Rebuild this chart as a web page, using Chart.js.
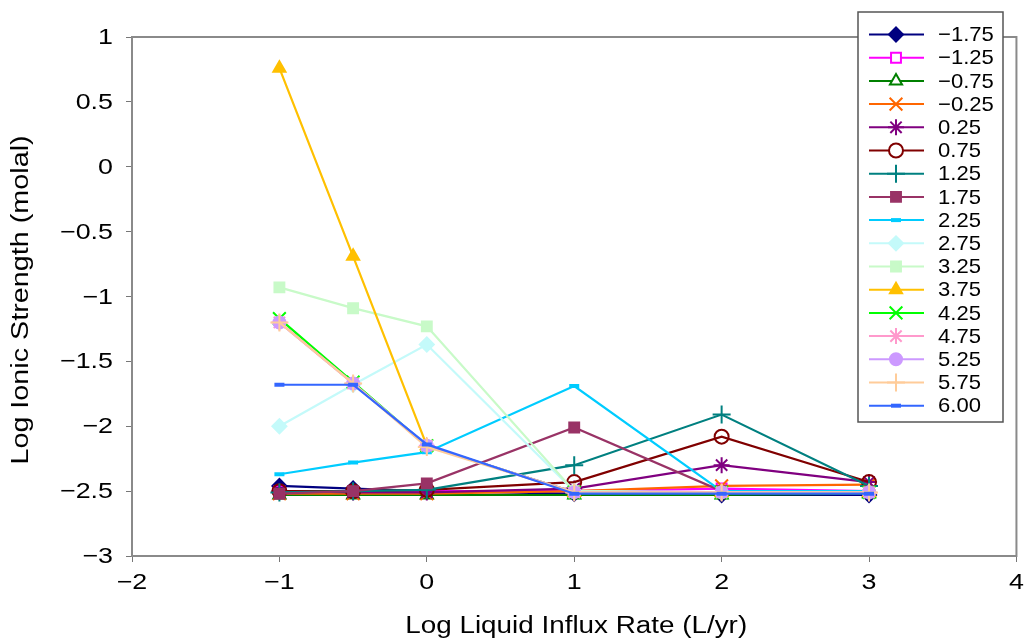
<!DOCTYPE html>
<html>
<head>
<meta charset="utf-8">
<script src="https://cdn.jsdelivr.net/npm/chart.js@4.4.0/dist/chart.umd.min.js"></script>
<style>
html,body{margin:0;padding:0;background:#fff;}
#wrap{width:1028px;height:642px;position:relative;}
</style>
</head>
<body>
<div id="wrap"><canvas id="c" width="1028" height="642"></canvas></div>
<script>
// ---- data ----
const xValues = [-1, -0.5, 0, 1, 2, 3];
const seriesLabels = ['\u22121.75','\u22121.25','\u22120.75','\u22120.25','0.25','0.75','1.25','1.75','2.25','2.75','3.25','3.75','4.25','4.75','5.25','5.75','6.00'];
const s_m175 = [-2.46, -2.48, -2.50, -2.52, -2.53, -2.53];
const s_m125 = [-2.50, -2.50, -2.50, -2.50, -2.48, -2.50];
const s_m075 = [-2.53, -2.53, -2.53, -2.53, -2.53, -2.52];
const s_m025 = [-2.52, -2.52, -2.52, -2.50, -2.46, -2.45];
const s_025  = [-2.50, -2.51, -2.51, -2.48, -2.30, -2.43];
const s_075  = [-2.50, -2.50, -2.49, -2.43, -2.08, -2.43];
const s_125  = [-2.51, -2.50, -2.49, -2.30, -1.91, -2.46];
const s_175  = [-2.52, -2.50, -2.44, -2.01, -2.50, -2.50];
const s_225  = [-2.37, -2.28, -2.20, -1.69, -2.50, -2.50];
const s_275  = [-2.00, -1.68, -1.37, -2.50, -2.51, -2.51];
const s_325  = [-0.93, -1.09, -1.23, -2.50, -2.51, -2.51];
const s_375  = [0.76, -0.69, -2.15, -2.51, -2.51, -2.51];
const s_425  = [-1.17, -1.66, -2.15, -2.51, -2.51, -2.51];
const s_475  = [-1.20, -1.67, -2.15, -2.51, -2.51, -2.51];
const s_525  = [-1.20, -1.67, -2.15, -2.51, -2.51, -2.51];
const s_575  = [-1.20, -1.67, -2.16, -2.51, -2.51, -2.51];
const s_600  = [-1.68, -1.68, -2.14, -2.52, -2.52, -2.52];
const xTickMin = -2, xTickMax = 4, xTickStep = 1;
const yTickMin = -3, yTickMax = 1, yTickStep = 0.5;
const xTitle = 'Log Liquid Influx Rate (L/yr)';
const yTitle = 'Log Ionic Strength (molal)';

const seriesValues = [s_m175,s_m125,s_m075,s_m025,s_025,s_075,s_125,s_175,s_225,s_275,s_325,s_375,s_425,s_475,s_525,s_575,s_600];

// ---- styles ----
const colors = ['#000080','#FF00FF','#008000','#FF6600','#800080','#800000','#008080','#993366','#00CCFF','#C4FAFA','#C8FAC8','#FFC000','#00FF00','#FF99CC','#CC99FF','#FFCC99','#3366FF'];
const styles = [
  {ps:'rectRot', r:7, fill:true},
  {ps:'rect', r:7, fill:false},
  {ps:'triangle', r:7, fill:false},
  {ps:'crossRot', r:9, fill:false},
  {ps:'star', r:8, fill:false},
  {ps:'circle', r:7, fill:false},
  {ps:'cross', r:9, fill:false},
  {ps:'rect', r:7, fill:true},
  {ps:'line', r:5, fill:true, bw:4},
  {ps:'rectRot', r:7, fill:true},
  {ps:'rect', r:7, fill:true},
  {ps:'triangle', r:7, fill:true},
  {ps:'crossRot', r:9, fill:false},
  {ps:'star', r:8, fill:false},
  {ps:'circle', r:6, fill:true},
  {ps:'cross', r:9, fill:false},
  {ps:'line', r:5, fill:true, bw:4}
];

const datasets = seriesValues.map((vals, i) => ({
  label: seriesLabels[i],
  data: vals.map((v, j) => ({x: xValues[j], y: v})),
  borderColor: colors[i],
  backgroundColor: styles[i].fill ? colors[i] : 'rgba(255,255,255,0)',
  pointBackgroundColor: styles[i].fill ? colors[i] : 'rgba(255,255,255,0)',
  pointBorderColor: colors[i],
  pointStyle: styles[i].ps,
  pointRadius: styles[i].r,
  pointHoverRadius: styles[i].r,
  pointBorderWidth: styles[i].bw || 2,
  borderWidth: 2.2,
  tension: 0,
  fill: false,
  order: seriesValues.length - i
}));

const FONT = '"Liberation Sans", Arial, sans-serif';
const fmt = v => String(v).replace('-', '\u2212');

function drawText(ctx, text, x, y, size, sx, align, rot) {
  ctx.save();
  ctx.translate(x, y);
  if (rot) ctx.rotate(rot);
  ctx.scale(sx, 1);
  ctx.font = size + 'px ' + FONT;
  ctx.fillStyle = '#000';
  ctx.textAlign = align;
  ctx.textBaseline = 'middle';
  ctx.fillText(text, 0, 0);
  ctx.restore();
}

const frame = {
  id: 'frame',
  beforeDatasetsDraw(chart) {
    const {ctx, chartArea: a} = chart;
    ctx.save();
    ctx.strokeStyle = '#8a8a8a';
    ctx.lineWidth = 2;
    ctx.strokeRect(a.left, a.top, a.right - a.left, a.bottom - a.top);
    ctx.restore();
  }
};

const axisText = {
  id: 'axisText',
  afterDraw(chart) {
    const ctx = chart.ctx;
    const xs = chart.scales.x, ys = chart.scales.y;
    ys.ticks.forEach(t => {
      drawText(ctx, fmt(t.value), 113, ys.getPixelForValue(t.value) + 1, 22, 1.22, 'right', 0);
    });
    xs.ticks.forEach(t => {
      drawText(ctx, fmt(t.value), xs.getPixelForValue(t.value), 583, 22, 1.22, 'center', 0);
    });
    const a = chart.chartArea;
    drawText(ctx, xTitle, (a.left + a.right) / 2 + 2, 627, 23, 1.21, 'center', 0);
    drawText(ctx, yTitle, 22, 300, 23, 1.25, 'center', -Math.PI / 2);
  }
};

const customLegend = {
  id: 'customLegend',
  afterDraw(chart) {
    const ctx = chart.ctx;
    const bx = 858, by = 12, bw = 145, bh = 410;
    ctx.save();
    ctx.fillStyle = '#fff';
    ctx.fillRect(bx, by, bw, bh);
    ctx.strokeStyle = '#555';
    ctx.lineWidth = 1.5;
    ctx.strokeRect(bx, by, bw, bh);
    const y0 = 34.5, dy = 23.2;
    chart.data.datasets.forEach((ds, i) => {
      const y = y0 + i * dy;
      ctx.strokeStyle = ds.borderColor;
      ctx.lineWidth = 2;
      ctx.beginPath();
      ctx.moveTo(869, y); ctx.lineTo(924, y); ctx.stroke();
      ctx.fillStyle = ds.pointBackgroundColor === 'rgba(255,255,255,0)' ? '#fff' : ds.pointBackgroundColor;
      ctx.strokeStyle = ds.pointBorderColor;
      ctx.lineWidth = ds.pointBorderWidth;
      Chart.helpers.drawPoint(ctx, {pointStyle: ds.pointStyle, radius: ds.pointRadius, rotation: 0, borderWidth: ds.pointBorderWidth}, 896, y);
      drawText(ctx, ds.label, 938, y + 1, 21, 1.05, 'left', 0);
    });
    ctx.restore();
  }
};

new Chart(document.getElementById('c'), {
  type: 'line',
  data: { datasets },
  plugins: [frame, axisText, customLegend],
  options: {
    responsive: false,
    animation: false,
    devicePixelRatio: 1,
    layout: { padding: { left: 0, right: 8, top: 37, bottom: 0 } },
    plugins: { legend: { display: false }, tooltip: { enabled: false } },
    scales: {
      x: {
        type: 'linear',
        min: xTickMin, max: xTickMax,
        ticks: { stepSize: xTickStep, color: 'rgba(0,0,0,0)', font: { family: FONT, size: 20 }, padding: 6, callback: fmt, maxRotation: 0 },
        grid: { display: true, drawOnChartArea: false, drawTicks: true, tickLength: 6, color: '#777' },
        border: { display: true, color: '#777', width: 2 },
        title: { display: false, text: xTitle },
        afterFit(s) { s.height = 86; }
      },
      y: {
        type: 'linear',
        min: yTickMin, max: yTickMax,
        ticks: { stepSize: yTickStep, color: 'rgba(0,0,0,0)', font: { family: FONT, size: 20 }, padding: 10, callback: fmt },
        grid: { display: true, drawOnChartArea: false, drawTicks: true, tickLength: 6, color: '#777' },
        border: { display: true, color: '#777', width: 2 },
        title: { display: false, text: yTitle },
        afterFit(s) { s.width = 132; }
      }
    }
  }
});
</script>
</body>
</html>
